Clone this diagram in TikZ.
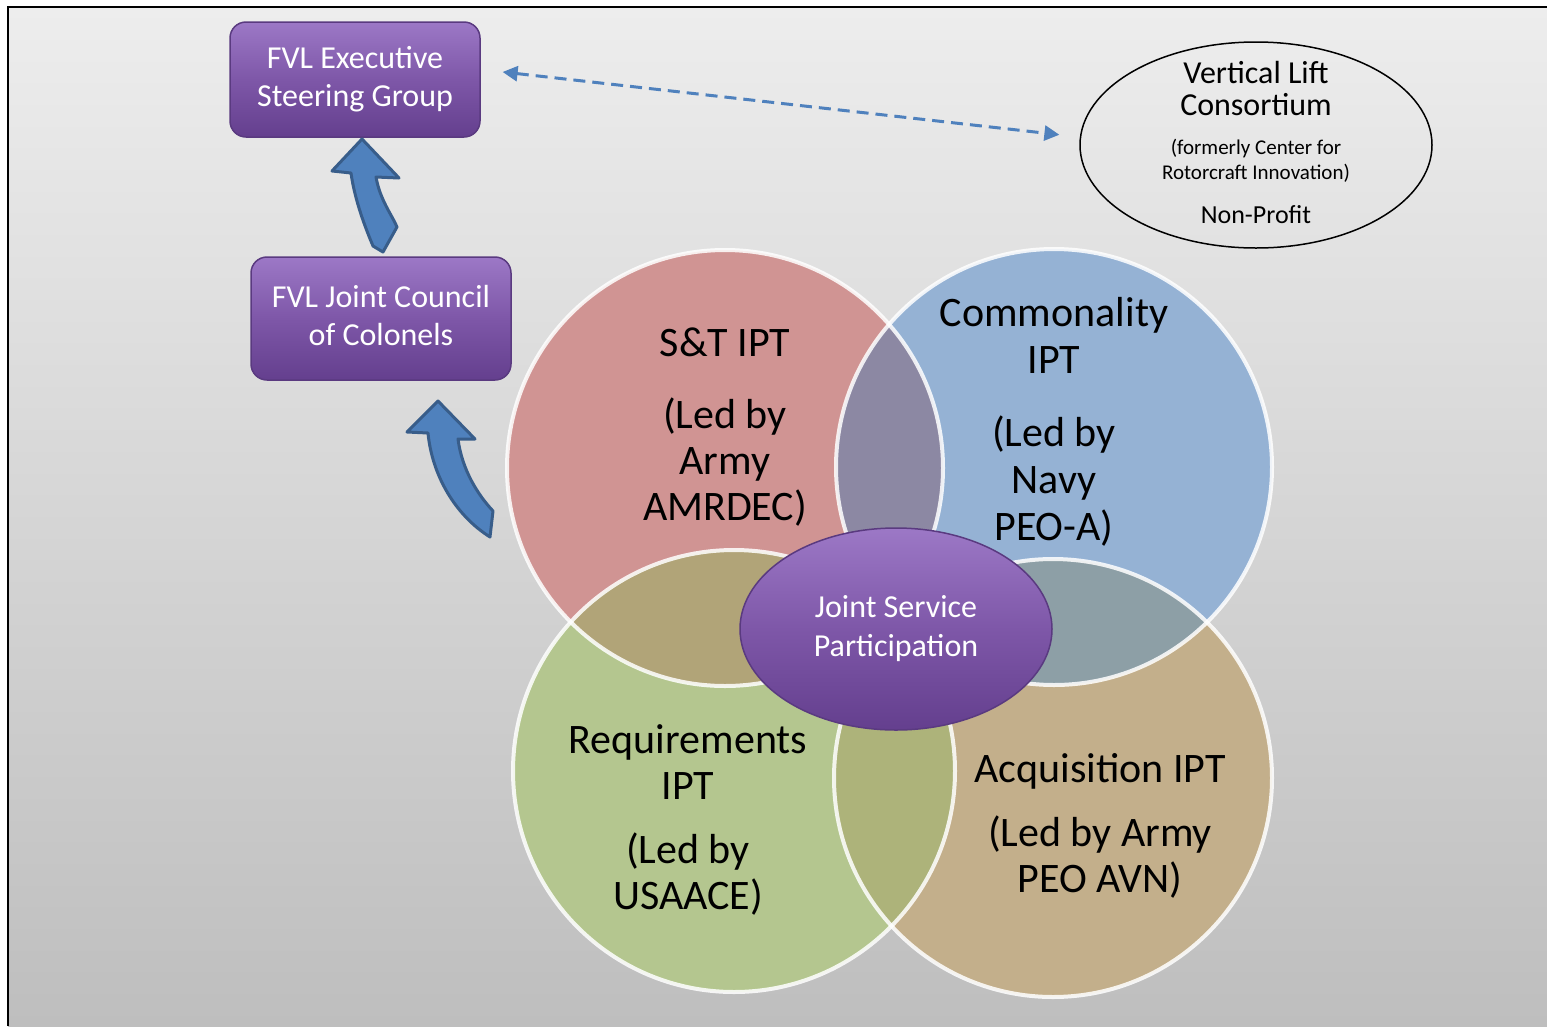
\documentclass[tikz,border=0pt]{standalone}
\usepackage{fontspec}
\setmainfont{Carlito}
\usetikzlibrary{arrows.meta,shapes.geometric,positioning}

\definecolor{bgtop}{HTML}{EDEDED}
\definecolor{bgbot}{HTML}{BEBEBE}
\definecolor{boxtop}{HTML}{9C78C6}
\definecolor{boxmid}{HTML}{7E57A8}
\definecolor{boxbot}{HTML}{643F8E}
\definecolor{boxedge}{HTML}{5A3A80}
\definecolor{arrowfill}{HTML}{4F81BD}
\definecolor{arrowedge}{HTML}{385D8A}
\definecolor{stred}{HTML}{D09493}
\definecolor{comblue}{HTML}{95B2D4}
\definecolor{reqgreen}{HTML}{B4C68F}
\definecolor{acqtan}{HTML}{C3AF8B}
\definecolor{redblue}{HTML}{8C88A3}
\definecolor{redgreen}{HTML}{B1A478}
\definecolor{greentan}{HTML}{ADB37A}
\definecolor{bluetan}{HTML}{8D9FA6}

\tikzset{
  purplebox/.style={rectangle, rounded corners=16pt, draw=boxedge, line width=1.5pt,
    top color=boxtop, bottom color=boxbot, middle color=boxmid,
    text=white, align=center, inner sep=0pt, font=\fontsize{32}{38}\selectfont},
  iptlabel/.style={align=center, font=\fontsize{42}{46}\selectfont},
  blockarrow/.style={fill=arrowfill, draw=arrowedge, line width=3pt, line join=round},
  vennedge/.style={draw=white, line width=4pt, draw opacity=0.85},
}

\begin{document}
\begin{tikzpicture}[x=1pt, y=-1pt]
  \useasboundingbox (0,0) rectangle (1547,1026);
  \fill[white] (0,0) rectangle (1547,1026);

  % Background and frame
  \shade[top color=bgtop, bottom color=bgbot] (8,7) rectangle (1547,1026);
  \draw[line width=2pt] (8,1026) -- (8,7) -- (1547,7);

  % Draw circles
  \fill[stred] (725,468) circle (218pt);
  \fill[comblue] (1054,467) circle (218pt);
  \fill[reqgreen] (734,771) circle (221pt);
  \fill[acqtan] (1053,778) circle (219pt);

  % Draw overlaps
  \begin{scope}
    \clip (725,468) circle (218pt);
    \fill[redblue] (1054,467) circle (218pt);
    \fill[redgreen] (734,771) circle (221pt);
  \end{scope}
  \begin{scope}
    \clip (1053,778) circle (219pt);
    \fill[greentan] (734,771) circle (221pt);
    \fill[bluetan] (1054,467) circle (218pt);
  \end{scope}

  % Draw circle edges
  \draw[vennedge] (725,468) circle (218pt);
  \draw[vennedge] (1054,467) circle (218pt);
  \draw[vennedge] (734,771) circle (221pt);
  \draw[vennedge] (1053,778) circle (219pt);

  % Circle labels
  \node[iptlabel] (st) at (725,427) {S\&T IPT\\[26pt](Led by\\Army\\AMRDEC)};
  \node[iptlabel, font=\fontsize{42}{47}\selectfont] (com) at (1054,422) {Commonality\\IPT\\[26pt](Led by\\Navy\\PEO-A)};
  \node[iptlabel] (req) at (688,820) {Requirements\\IPT\\[18pt](Led by\\USAACE)};
  \node[iptlabel] (acq) at (1100,826) {Acquisition IPT\\[18pt](Led by Army\\PEO AVN)};

  % Center ellipse
  \node[ellipse, draw=boxedge, line width=1.5pt, top color=boxtop, bottom color=boxbot,
    middle color=boxmid, minimum width=312pt, minimum height=202pt, inner sep=0pt,
    text=white, align=center, font=\fontsize{32}{39}\selectfont] (jsp) at (896,629)
    {Joint Service\\Participation};

  % Draw boxes
  \node[purplebox, minimum width=250pt, minimum height=115pt] (esg) at (355,79.5)
    {\strut FVL Executive\\\strut Steering Group};
  \node[purplebox, minimum width=260pt, minimum height=123pt] (jcc) at (381,318.5)
    {\strut FVL Joint Council\\\strut of Colonels};

  % Block arrows
  \draw[blockarrow] (362,139) -- (399,178) -- (376,177)
    .. controls (380,200) and (392,215) .. (397,227) -- (383,252) -- (373,246)
    .. controls (362,220) and (354,195) .. (351,173) -- (332,171) -- cycle;
  \draw[blockarrow] (438,401) -- (475,439) -- (458,439)
    .. controls (462,470) and (478,495) .. (493,511) -- (490,537)
    .. controls (455,515) and (432,475) .. (428,433) -- (407,432) -- cycle;

  % Consortium
  \node[ellipse, draw, line width=1.5pt, minimum width=352pt, minimum height=206pt,
    inner sep=0pt] (vlc) at (1256,145) {};
  \node[align=center, font=\fontsize{32}{32}\selectfont] (vlcname) at (1256,89)
    {Vertical Lift\\Consortium};
  \node[align=center, font=\fontsize{21}{25}\selectfont] (vlcformer) at (1256,161)
    {(formerly Center for\\Rotorcraft Innovation)};
  \node[font=\fontsize{26}{30}\selectfont] (vlcnp) at (1256,215) {Non-Profit};

  % Dashed link
  \draw[arrowfill, line width=3pt, dash pattern=on 12pt off 7pt,
    {Triangle[length=15pt,width=15pt]}-{Triangle[length=15pt,width=15pt]},
    shorten <=22pt, shorten >=20pt] ([yshift=10pt]esg.east) -- ([yshift=8pt]vlc.west);
\end{tikzpicture}
\end{document}
